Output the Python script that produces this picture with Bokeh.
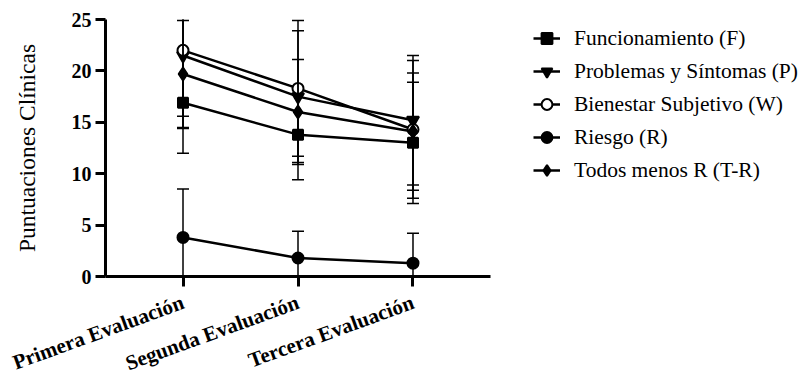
import math
from bokeh.plotting import figure
from bokeh.layouts import row
from bokeh.models import Range1d, FixedTicker, Legend, LegendItem
from bokeh.core.properties import value
from bokeh.embed import file_html
from bokeh.resources import INLINE

# ---------------- data ----------------
categories = ["Primera Evaluación", "Segunda Evaluación", "Tercera Evaluación"]
series_names = ["Funcionamiento (F)", "Problemas y Síntomas (P)",
                "Bienestar Subjetivo (W)", "Riesgo (R)", "Todos menos R (T-R)"]
funcionamiento = [16.9, 13.8, 13.0]
funcionamiento_sd = [4.9, 4.4, 5.9]
problemas = [21.5, 17.5, 15.2]
problemas_sd = [7.1, 6.4, 6.3]
bienestar = [22.0, 18.3, 14.3]
bienestar_sd = [6.4, 6.6, 6.7]
riesgo = [3.8, 1.8, 1.3]
riesgo_sd = [4.7, 2.6, 2.9]
todos_menos_r = [19.7, 16.0, 14.1]
todos_menos_r_sd = [5.2, 5.1, 5.7]
y_ticks = [0, 5, 10, 15, 20, 25]
y_title = "Puntuaciones Clínicas"

FONT = "'Liberation Serif', 'Times New Roman', serif"
Y_MIN, Y_MAX = 0, 25
x_pos = list(range(len(categories)))

# ---------------- layout (pixels) ----------------
W, H = 500, 376
AXIS_LEFT, AXIS_RIGHT = 105, 490     # x-axis line extent
TOP, AXIS_Y = 19, 276                # y-axis line extent
CAT_PAD = 0.674                      # gap (in category steps) between axis end and first/last category
ppu_x = (AXIS_RIGHT - AXIS_LEFT) / (len(categories) - 1 + 2 * CAT_PAD)
x_start = -CAT_PAD - AXIS_LEFT / ppu_x
ppu_y = (AXIS_Y - TOP) / (Y_MAX - Y_MIN)
y_start = Y_MIN - (H - AXIS_Y) / ppu_y
y_end = Y_MAX + TOP / ppu_y

p = figure(width=W, height=H, output_backend="svg", toolbar_location=None,
           x_range=Range1d(x_start, x_start + W / ppu_x),
           y_range=Range1d(y_start, y_end),
           min_border_left=0, min_border_right=0, min_border_top=0, min_border_bottom=0)
p.outline_line_color = None
p.xgrid.grid_line_color = None
p.ygrid.grid_line_color = None

# legend-only figure to the right of the chart
p2 = figure(width=300, height=H, output_backend="svg", toolbar_location=None,
            x_range=Range1d(0, 1), y_range=Range1d(Y_MIN, Y_MAX),
            x_axis_type=None, y_axis_type=None,
            min_border_left=0, min_border_right=0, min_border_top=0, min_border_bottom=0)
p2.outline_line_color = None
p2.xgrid.grid_line_color = None
p2.ygrid.grid_line_color = None

styles = [
    dict(marker="square", size=10, fill_color="black"),
    dict(marker="inverted_triangle", size=12, fill_color="black"),
    dict(marker="circle", size=11, fill_color="white"),
    dict(marker="circle", size=11, fill_color="black"),
    dict(marker="diamond", size=13, fill_color="black"),
]
series = [(funcionamiento, funcionamiento_sd), (problemas, problemas_sd),
          (bienestar, bienestar_sd), (riesgo, riesgo_sd),
          (todos_menos_r, todos_menos_r_sd)]

items = []
for name, (vals, sds), st in zip(series_names, series, styles):
    p.line(x_pos, vals, line_color="black", line_width=2.5)
    p.scatter(x_pos, vals, marker=st["marker"], size=st["size"],
              fill_color=st["fill_color"], line_color="black", line_width=2)
    lows = [v - s for v, s in zip(vals, sds)]
    highs = [v + s for v, s in zip(vals, sds)]
    # error bars are cut at the axis limits
    p.segment(x0=x_pos, y0=[max(y, Y_MIN) for y in lows],
              x1=x_pos, y1=[min(y, Y_MAX) for y in highs],
              line_color="black", line_width=1.5)
    cap_x = [c for c, y in zip(x_pos * 2, lows + highs) if Y_MIN <= y <= Y_MAX]
    cap_y = [y for y in lows + highs if Y_MIN <= y <= Y_MAX]
    p.scatter(cap_x, cap_y, marker="dash", size=12, line_color="black", line_width=1.5)
    # legend glyphs (hidden renderers in the legend figure)
    l2 = p2.line([0, 1], vals[:2], line_color="black", line_width=2.5, visible=False)
    s2 = p2.scatter([0, 1], vals[:2], marker=st["marker"], size=st["size"],
                    fill_color=st["fill_color"], line_color="black", line_width=2,
                    visible=False)
    items.append(LegendItem(label=name, renderers=[l2, s2]))

legend = Legend(items=items, location=(33, 191), padding=0, spacing=3, margin=0,
                glyph_width=27, glyph_height=30, label_height=30, label_standoff=14,
                label_text_font=FONT, label_text_font_size="21.5px",
                label_text_color="black", inactive_fill_alpha=0,
                border_line_color=None, background_fill_alpha=0)
p2.add_layout(legend)

for ax in (p.xaxis[0], p.yaxis[0]):
    ax.axis_line_width = 3
    ax.axis_line_color = "black"
    ax.major_tick_line_width = 3
    ax.major_tick_line_color = "black"
    ax.major_tick_out = 10
    ax.major_tick_in = 0
    ax.minor_tick_line_color = None
    ax.major_label_text_font = FONT
    ax.major_label_text_font_style = "bold"
    ax.major_label_text_color = "black"

p.yaxis.fixed_location = -CAT_PAD
p.yaxis.bounds = (Y_MIN, Y_MAX)
p.yaxis.ticker = FixedTicker(ticks=y_ticks)
p.yaxis.major_label_text_font_size = "20px"
p.yaxis.major_label_standoff = 4

p.xaxis.fixed_location = Y_MIN
p.xaxis.bounds = (-CAT_PAD, len(categories) - 1 + CAT_PAD)
p.xaxis.ticker = FixedTicker(ticks=x_pos)
p.xaxis.major_label_overrides = {i: c for i, c in zip(x_pos, categories)}
p.xaxis.major_label_text_font_size = "21px"
p.xaxis.major_label_orientation = math.radians(20)
p.xaxis.major_label_standoff = 15

# y-axis title, centred on the 0-25 span, left of the axis
p.text(x=[-CAT_PAD], y=[(Y_MIN + Y_MAX) / 2], text=[y_title], angle=math.pi / 2,
       x_offset=-79, text_align="center", text_baseline="middle",
       text_font=value(FONT), text_font_size="23.5px", text_color="black")

layout = row(p, p2, spacing=0)
open("out.html", "w").write(file_html(layout, INLINE))
